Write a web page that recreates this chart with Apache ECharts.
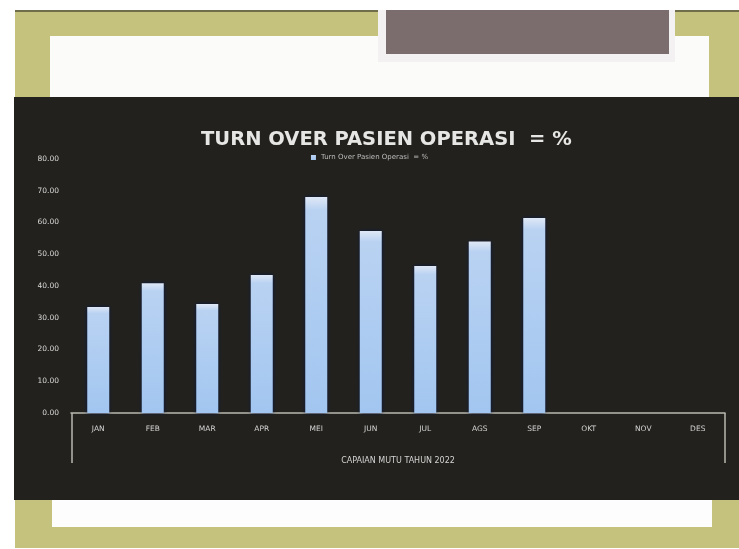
<!DOCTYPE html>
<html>
<head>
<meta charset="utf-8">
<script src="https://cdn.jsdelivr.net/npm/echarts@6/dist/echarts.min.js"></script>
<style>
  html, body { margin: 0; padding: 0; background: #ffffff; }
  #chart { width: 739px; height: 549px; filter: blur(0.6px); }
</style>
</head>
<body>
<div id="chart"></div>
<script>
// Monthly turnover of surgical patients (%), 2022
const months = ['JAN', 'FEB', 'MAR', 'APR', 'MEI', 'JUN', 'JUL', 'AGS', 'SEP', 'OKT', 'NOV', 'DES'];
const turnOver = [33.4, 40.9, 34.3, 43.5, 68.0, 57.3, 46.3, 54.0, 61.4, null, null, null];
const seriesName = 'Turn Over Pasien Operasi  = %';
const yTicks = { min: 0, max: 80, interval: 10 };

const W = 739, H = 549;
const grid = { left: 71, right: 14, top: 159, bottom: 136 };
const olive = '#c4c27c';
const dark = '#22211d';

const chart = echarts.init(document.getElementById('chart'), null, { renderer: 'canvas' });

// slide frame around the chart panel
const frame = [
  { type: 'rect', shape: { x: 15, y: 10, width: 724, height: 538 }, style: { fill: olive }, z: -10 },
  { type: 'line', shape: { x1: 15, y1: 11, x2: 739, y2: 11 }, style: { stroke: '#6f6d4a', lineWidth: 2 }, z: -9 },
  { type: 'rect', shape: { x: 50, y: 36, width: 659, height: 62 }, style: { fill: '#fbfbfa' }, z: -9 },
  { type: 'rect', shape: { x: 378, y: 10, width: 297, height: 52 }, style: { fill: '#f3f1f1' }, z: -8 },
  { type: 'rect', shape: { x: 386, y: 10, width: 283, height: 44 }, style: { fill: '#7b6d6d' }, z: -7 },
  { type: 'rect', shape: { x: 14, y: 97, width: 725, height: 403 }, style: { fill: dark }, z: -8 },
  { type: 'rect', shape: { x: 52, y: 500, width: 660, height: 27 }, style: { fill: '#fdfdfd' }, z: -8 }
];

// bracket closing the category axis band
const axisY = H - grid.bottom;
const xL = grid.left + 1, xR = W - grid.right;
const bracket = [
  { type: 'line', shape: { x1: xL, y1: axisY, x2: xL, y2: axisY + 50 }, style: { stroke: '#b9b9b0', lineWidth: 1.5 }, z: 5 },
  { type: 'line', shape: { x1: xR, y1: axisY, x2: xR, y2: axisY + 50 }, style: { stroke: '#b9b9b0', lineWidth: 1.5 }, z: 5 }
];

chart.setOption({
  backgroundColor: '#ffffff',
  animation: false,
  graphic: frame.concat(bracket),
  title: {
    text: 'TURN OVER PASIEN OPERASI  = %',
    left: 196,
    top: 125,
    textStyle: { color: '#e6e6e4', fontSize: 19.5, fontWeight: 'bold', fontFamily: 'DejaVu Sans' }
  },
  legend: {
    top: 149,
    left: 'center',
    itemWidth: 5,
    itemHeight: 5,
    icon: 'rect',
    textStyle: { color: '#bdbdbd', fontSize: 7, fontFamily: 'DejaVu Sans' },
    data: [seriesName]
  },
  grid: grid,
  xAxis: {
    type: 'category',
    data: months,
    name: 'CAPAIAN MUTU TAHUN 2022',
    nameLocation: 'middle',
    nameGap: 44,
    nameTextStyle: { color: '#d4d4d4', fontSize: 8, fontFamily: 'DejaVu Sans' },
    axisLine: { show: true, lineStyle: { color: '#b9b9b0', width: 1.5 } },
    axisTick: { show: false },
    axisLabel: { color: '#d4d4d4', fontSize: 7.5, margin: 12, fontFamily: 'DejaVu Sans' },
    splitLine: { show: false }
  },
  yAxis: {
    type: 'value',
    min: yTicks.min,
    max: yTicks.max,
    interval: yTicks.interval,
    axisLine: { show: false },
    axisTick: { show: false },
    splitLine: { show: false },
    axisLabel: {
      color: '#d8d8d8',
      fontSize: 7.5,
      margin: 12,
      fontFamily: 'DejaVu Sans',
      formatter: v => v.toFixed(2)
    }
  },
  series: [{
    name: seriesName,
    type: 'bar',
    data: turnOver,
    barWidth: 22,
    itemStyle: {
      color: new echarts.graphic.LinearGradient(0, 0, 0, 1, [
        { offset: 0, color: '#dfe8f6' },
        { offset: 0.06, color: '#b9d2f2' },
        { offset: 1, color: '#a2c6f0' }
      ]),
      shadowColor: 'rgba(10,25,70,0.9)',
      shadowBlur: 4
    }
  }]
});
</script>
</body>
</html>
